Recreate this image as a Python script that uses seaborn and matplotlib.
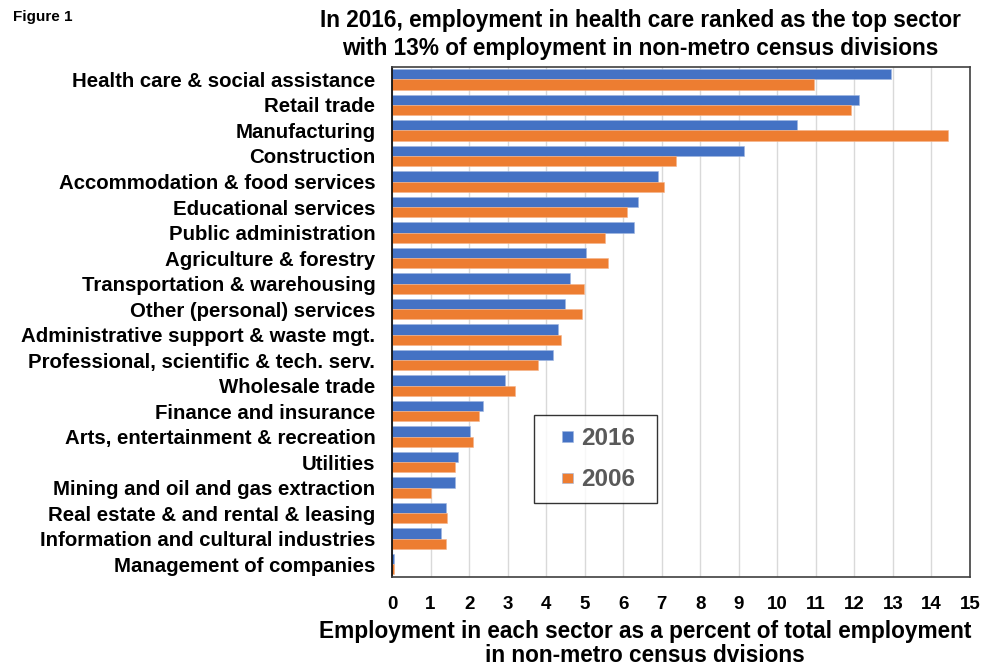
import matplotlib
matplotlib.use("Agg")
import matplotlib.pyplot as plt
from matplotlib.patches import Rectangle
from matplotlib.legend_handler import HandlerPatch
import seaborn as sns
import pandas as pd

sectors = [
    "Health care & social assistance",
    "Retail trade",
    "Manufacturing",
    "Construction",
    "Accommodation & food services",
    "Educational services",
    "Public administration",
    "Agriculture & forestry",
    "Transportation & warehousing",
    "Other (personal) services",
    "Administrative support & waste mgt.",
    "Professional, scientific & tech. serv.",
    "Wholesale trade",
    "Finance and insurance",
    "Arts, entertainment & recreation",
    "Utilities",
    "Mining and oil and gas extraction",
    "Real estate & and rental & leasing",
    "Information and cultural industries",
    "Management of companies",
]
share_2016 = [12.94, 12.11, 10.52, 9.14, 6.90, 6.38, 6.28, 5.03, 4.61, 4.48,
              4.30, 4.17, 2.92, 2.37, 2.03, 1.70, 1.63, 1.40, 1.27, 0.05]
share_2006 = [10.96, 11.90, 14.43, 7.37, 7.06, 6.09, 5.52, 5.60, 4.97, 4.92,
              4.38, 3.80, 3.20, 2.27, 2.09, 1.63, 1.00, 1.43, 1.40, 0.05]
years = ["2016", "2006"]
x_ticks = list(range(0, 16))

df = pd.concat([
    pd.DataFrame({"sector": sectors, "share": share_2016, "year": years[0]}),
    pd.DataFrame({"sector": sectors, "share": share_2006, "year": years[1]}),
])

sns.set_style("white")
plt.rcParams["font.family"] = ["Liberation Sans", "DejaVu Sans"]
plt.rcParams["font.weight"] = "bold"
plt.rcParams["text.color"] = "black"
plt.rcParams["xtick.color"] = "black"
plt.rcParams["ytick.color"] = "black"

fig = plt.figure(figsize=(10, 6.67), dpi=100)
ax = fig.add_axes([0.392, 0.135, 0.578, 0.765])

sns.barplot(data=df, y="sector", x="share", hue="year", hue_order=years,
            order=sectors, orient="h",
            palette={"2016": "#4472C4", "2006": "#ED7D31"},
            width=0.8, saturation=1, errorbar=None, ax=ax,
            edgecolor="#9fb6e0", linewidth=0.4)

# soften orange bar edges
for patch in ax.containers[1]:
    patch.set_edgecolor("#f5b48a")

ax.set_xlim(0, 15)
ax.set_xticks(x_ticks)
ax.set_xticklabels([str(t) for t in x_ticks], fontsize=13.5, fontweight="bold")
ax.tick_params(axis="x", length=0, pad=14)
ax.tick_params(axis="y", length=0, pad=12)
for lbl in ax.get_yticklabels():
    lbl.set_fontsize(14.7)
    lbl.set_fontweight("bold")
ax.set_ylabel("")
ax.set_xlabel("")

ax.grid(axis="x", color="#d9d9d9", linewidth=1)
ax.set_axisbelow(True)
for side in ["left", "right", "top", "bottom"]:
    ax.spines[side].set_visible(True)
    ax.spines[side].set_color("#404040")
    ax.spines[side].set_linewidth(1.2)
ax.spines["left"].set_color("#000000")


def small_square(legend, orig_handle, xdescent, ydescent, width, height, fontsize):
    """Small square key placed at the right end of the handle area."""
    s = 7.5
    return Rectangle((-xdescent + width - s, -ydescent + (height - s) / 2), s, s)


handles, labels = ax.get_legend_handles_labels()
leg = ax.legend(handles, labels, loc="upper left",
                bbox_to_anchor=(0.2457, 0.1509, 0.2128, 0.1667), mode="expand",
                frameon=True, fancybox=False, edgecolor="#000000",
                handlelength=1.1, handleheight=0.6, handletextpad=0.35,
                labelspacing=0.75, borderpad=0.5, borderaxespad=0,
                handler_map={h: HandlerPatch(patch_func=small_square) for h in handles},
                prop={"size": 17.5, "weight": "bold"})
leg.get_frame().set_linewidth(1.0)
for txt in leg.get_texts():
    txt.set_color("#595959")

fig.text(0.645, 0.0, "Employment in each sector as a percent of total employment\n"
         "in non-metro census dvisions",
         ha="center", va="bottom", fontsize=16.3, fontweight="bold", linespacing=1.05)
fig.text(0.64, 0.987, "In 2016, employment in health care ranked as the top sector\n"
         "with 13% of employment in non-metro census divisions",
         ha="center", va="top", fontsize=16.3, fontweight="bold", linespacing=1.3)
fig.text(0.013, 0.985, "Figure 1", ha="left", va="top", fontsize=11, fontweight="bold")

fig.savefig("out.png", dpi=100)
